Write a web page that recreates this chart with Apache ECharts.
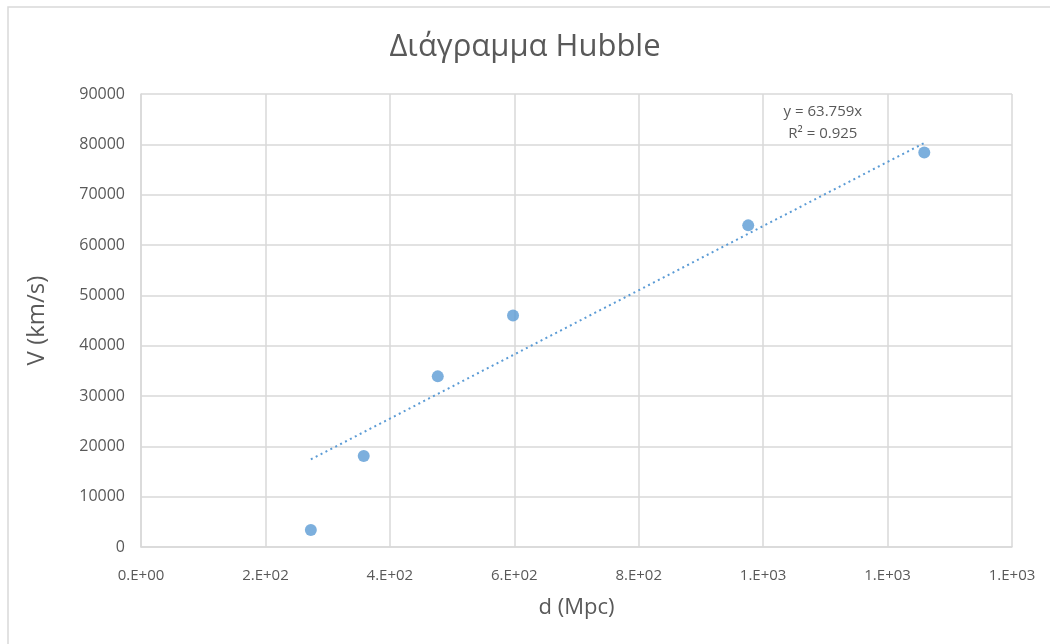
<!DOCTYPE html>
<html>
<head>
<meta charset="utf-8">
<script src="https://cdn.jsdelivr.net/npm/echarts@6/dist/echarts.min.js"></script>
<style>
  html, body { margin: 0; padding: 0; background: #fff; }
  #chart { width: 1050px; height: 644px; }
</style>
</head>
<body>
<div id="chart"></div>
<script>
// Distance (Mpc) and recession velocity (km/s) of the galaxies
const distances = [273, 358, 477, 598, 976, 1259];
const velocities = [3400, 18100, 33900, 46000, 63900, 78400];

// Least-squares fit through the origin
const trendSlope = 63.759;
const trendR2 = 0.925;

// Axis tick labels as printed in scientific format
const xTickLabels = ['0.E+00', '2.E+02', '4.E+02', '6.E+02', '8.E+02', '1.E+03', '1.E+03', '1.E+03'];
const yTickLabels = ['0', '10000', '20000', '30000', '40000', '50000', '60000', '70000', '80000', '90000'];

const points = distances.map((d, i) => [d, velocities[i]]);
const xMin = Math.min(...distances), xMax = Math.max(...distances);
const trendPoints = [[xMin, trendSlope * xMin], [xMax, trendSlope * xMax]];

const textColor = '#595959';
const gridColor = '#d9d9d9';
const font = '"Open Sans", "Noto Sans", sans-serif';

const chart = echarts.init(document.getElementById('chart'));
chart.setOption({
  backgroundColor: '#fff',
  animation: false,
  textStyle: { fontFamily: font },
  graphic: [{
    type: 'rect',
    shape: { x: 8, y: 7, width: 1100, height: 700 },
    style: { fill: 'none', stroke: '#d9d9d9', lineWidth: 1.5 },
    silent: true
  }],
  title: {
    text: 'Διάγραμμα Hubble',
    left: 'center',
    top: 27,
    textStyle: { fontFamily: font, fontSize: 31, fontWeight: 'normal', color: textColor }
  },
  grid: { left: 141, right: 38, top: 94, bottom: 97 },
  xAxis: {
    type: 'value',
    min: 0, max: 1400, interval: 200,
    name: 'd (Mpc)',
    nameLocation: 'middle',
    nameGap: 50,
    nameTextStyle: { fontFamily: font, fontSize: 22, color: textColor },
    axisLine: { show: true, lineStyle: { color: gridColor, width: 1.5 } },
    axisTick: { show: false },
    axisLabel: {
      color: textColor, fontSize: 15, margin: 21, fontFamily: font,
      formatter: (v) => xTickLabels[Math.round(v / 200)]
    },
    splitLine: { show: true, lineStyle: { color: gridColor, width: 1.5 } }
  },
  yAxis: {
    type: 'value',
    min: 0, max: 90000, interval: 10000,
    name: 'V (km/s)',
    nameLocation: 'middle',
    nameGap: 92,
    nameTextStyle: { fontFamily: font, fontSize: 24, color: textColor },
    axisLine: { show: true, lineStyle: { color: gridColor, width: 1.5 } },
    axisTick: { show: false },
    axisLabel: {
      color: textColor, fontSize: 16, margin: 16, fontFamily: font,
      formatter: (v) => yTickLabels[Math.round(v / 10000)]
    },
    splitLine: { show: true, lineStyle: { color: gridColor, width: 1.5 } }
  },
  series: [
    {
      type: 'line',
      data: trendPoints,
      symbol: 'none',
      lineStyle: { color: '#5b9bd5', width: 2, type: [2, 3.5] },
      z: 2,
      markPoint: {
        symbol: 'circle',
        symbolSize: 0,
        data: [{ coord: [1096, 84300] }],
        label: {
          show: true,
          position: 'inside',
          formatter: 'y = ' + trendSlope + 'x\nR² = ' + trendR2,
          color: textColor,
          fontSize: 15,
          lineHeight: 22,
          fontFamily: font,
          align: 'center'
        }
      }
    },
    {
      type: 'scatter',
      data: points,
      symbol: 'circle',
      symbolSize: 12,
      itemStyle: { color: '#5b9bd5' },
      z: 3
    }
  ]
});
</script>
</body>
</html>
